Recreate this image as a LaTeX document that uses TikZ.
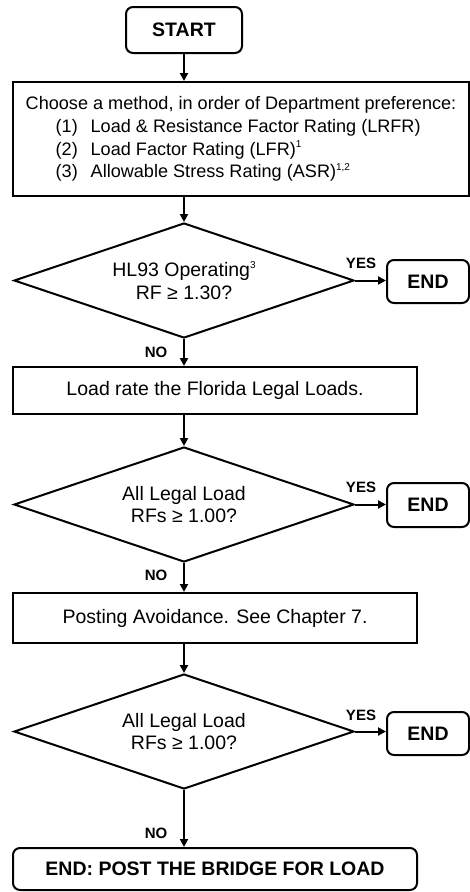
\documentclass[tikz,border=0pt]{standalone}
\usepackage{fontspec}
\setmainfont{Liberation Sans}
\usetikzlibrary{shapes.geometric,arrows.meta}
\newcommand\mysup[1]{\raisebox{0.42em}{\fontsize{10}{10}\selectfont #1}}
\newcommand\txt{\fontsize{19.5}{22.7}\selectfont}
\newcommand\mtxt{\fontsize{18.1}{22.7}\selectfont}
\newcommand\btxt{\bfseries\fontsize{19.5}{22}\selectfont}
\begin{document}
\begin{tikzpicture}[x=1pt,y=-1pt,
  box/.style={draw, line width=2pt, inner sep=0pt, font=\txt},
  rbox/.style={box, rounded corners=7pt},
  dia/.style={draw, diamond, aspect=3, line width=2pt, minimum width=340pt, minimum height=115pt, inner sep=0pt, align=center, font=\txt},
  arr/.style={line width=2pt, -{Triangle[length=8pt,width=8pt]}},
  lbl/.style={font=\bfseries\fontsize{15}{15}\selectfont}]
\useasboundingbox (0,0) rectangle (470,892);

\node[rbox, minimum width=116pt, minimum height=46pt, font=\btxt] (start) at (184,30) {START};
\node[box, minimum width=456pt, minimum height=114pt, align=left, font=\mtxt] (method) at (241,139) {Choose a method, in order of Department preference:\\
\hspace*{30pt}\makebox[35pt][l]{(1)}Load \& Resistance Factor Rating (LRFR)\\
\hspace*{30pt}\makebox[35pt][l]{(2)}Load Factor Rating (LFR)\mysup{1}\\
\hspace*{30pt}\makebox[35pt][l]{(3)}Allowable Stress Rating (ASR)\mysup{1,2}};

\node[dia] (d1) at (184,280.5) {HL93 Operating\mysup{3}\\RF ≥ 1.30?};
\node[rbox, minimum width=82pt, minimum height=43pt, font=\btxt] (e1) at (428,281.5) {END};
\node[box, minimum width=404pt, minimum height=47pt] (load) at (215,390.5) {Load rate the Florida Legal Loads.};

\node[dia] (d2) at (184,504.5) {All Legal Load\\RFs ≥ 1.00?};
\node[rbox, minimum width=82pt, minimum height=44pt, font=\btxt] (e2) at (428,505) {END};
\node[box, minimum width=404pt, minimum height=50pt] (post) at (215,618) {Posting Avoidance. See Chapter 7.};

\node[dia] (d3) at (184,731.5) {All Legal Load\\RFs ≥ 1.00?};
\node[rbox, minimum width=82pt, minimum height=43pt, font=\btxt] (e3) at (428,733.5) {END};
\node[rbox, minimum width=404pt, minimum height=42pt, font=\btxt] (fin) at (215,869) {END: POST THE BRIDGE FOR LOAD};

\draw[arr] (start.south) -- (start.south |- method.north);
\draw[arr] (method.south -| d1.north) -- (d1.north);
\draw[arr] (d1.south) -- (d1.south |- load.north);
\draw[arr] (load.south -| d2.north) -- (d2.north);
\draw[arr] (d2.south) -- (d2.south |- post.north);
\draw[arr] (post.south -| d3.north) -- (d3.north);
\draw[arr] (d3.south) -- (d3.south |- fin.north);
\draw[arr] (d1.east) -- (d1.east -| e1.west);
\draw[arr] (d2.east) -- (d2.east -| e2.west);
\draw[arr] (d3.east) -- (d3.east -| e3.west);

\node[lbl] (y1) at (361,263) {YES};
\node[lbl] (y2) at (361,487) {YES};
\node[lbl] (y3) at (361,715) {YES};
\node[lbl] (n1) at (156,352) {NO};
\node[lbl] (n2) at (156,575) {NO};
\node[lbl] (n3) at (156,833) {NO};
\end{tikzpicture}
\end{document}
